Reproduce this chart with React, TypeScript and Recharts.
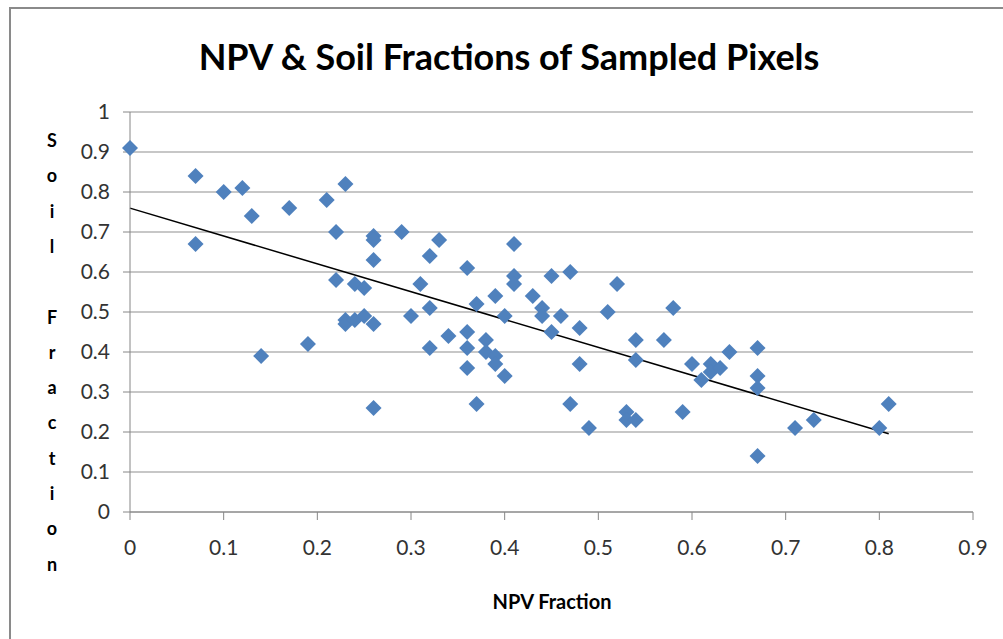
import { ScatterChart, Scatter, XAxis, YAxis, CartesianGrid, ReferenceLine } from "recharts";

const npvFraction = [
  0, 0.07, 0.07, 0.1, 0.12, 0.13, 0.14, 0.17, 0.19, 0.21, 0.22, 0.22, 0.23, 0.23, 0.23,
  0.24, 0.24, 0.25, 0.25, 0.26, 0.26, 0.26, 0.26, 0.26, 0.29, 0.3, 0.31, 0.32, 0.32, 0.32,
  0.33, 0.34, 0.36, 0.36, 0.36, 0.36, 0.37, 0.37, 0.38, 0.38, 0.39, 0.39, 0.39, 0.4, 0.4,
  0.41, 0.41, 0.41, 0.43, 0.44, 0.44, 0.45, 0.45, 0.46, 0.47, 0.47, 0.48, 0.48, 0.49, 0.51,
  0.52, 0.53, 0.53, 0.54, 0.54, 0.54, 0.57, 0.58, 0.59, 0.6, 0.61, 0.62, 0.62, 0.63, 0.64,
  0.67, 0.67, 0.67, 0.67, 0.71, 0.73, 0.8, 0.81,
];
const soilFraction = [
  0.91, 0.84, 0.67, 0.8, 0.81, 0.74, 0.39, 0.76, 0.42, 0.78, 0.7, 0.58, 0.82, 0.48, 0.47,
  0.57, 0.48, 0.56, 0.49, 0.69, 0.68, 0.63, 0.47, 0.26, 0.7, 0.49, 0.57, 0.64, 0.51, 0.41,
  0.68, 0.44, 0.61, 0.45, 0.41, 0.36, 0.52, 0.27, 0.43, 0.4, 0.54, 0.39, 0.37, 0.49, 0.34,
  0.67, 0.59, 0.57, 0.54, 0.51, 0.49, 0.59, 0.45, 0.49, 0.6, 0.27, 0.46, 0.37, 0.21, 0.5,
  0.57, 0.25, 0.23, 0.43, 0.38, 0.23, 0.43, 0.51, 0.25, 0.37, 0.33, 0.37, 0.35, 0.36, 0.4,
  0.41, 0.34, 0.31, 0.14, 0.21, 0.23, 0.21, 0.27,
];
const xTicks = [0, 0.1, 0.2, 0.3, 0.4, 0.5, 0.6, 0.7, 0.8, 0.9];
const yTicks = [0, 0.1, 0.2, 0.3, 0.4, 0.5, 0.6, 0.7, 0.8, 0.9, 1];
const yTitleLetters = ["S", "o", "i", "l", "", "F", "r", "a", "c", "t", "i", "o", "n"];

const points = npvFraction.map((npv, i) => ({ npv, soil: soilFraction[i] }));

// least squares trendline, like Excel's linear trendline
function linearFit(xs: number[], ys: number[]) {
  const n = xs.length;
  const mx = xs.reduce((a, b) => a + b, 0) / n;
  const my = ys.reduce((a, b) => a + b, 0) / n;
  let sxy = 0;
  let sxx = 0;
  xs.forEach((x, i) => {
    sxy += (x - mx) * (ys[i] - my);
    sxx += (x - mx) * (x - mx);
  });
  const slope = sxy / sxx;
  return { slope, intercept: my - slope * mx };
}

const fit = linearFit(npvFraction, soilFraction);
const xMin = Math.min(...npvFraction);
const xMax = Math.max(...npvFraction);

const FONT = 'Lato, "Open Sans", sans-serif';

const Diamond = (props: any) => {
  const { cx, cy } = props;
  const r = 8;
  return (
    <polygon
      points={`${cx},${cy - r} ${cx + r},${cy} ${cx},${cy + r} ${cx - r},${cy}`}
      fill="#4F81BD"
    />
  );
};

export default function App() {
  return (
    <div
      style={{
        position: "fixed",
        left: 0,
        top: 0,
        width: 1003,
        height: 639,
        overflow: "hidden",
        background: "#fff",
        fontFamily: FONT,
      }}
    >
      <div
        style={{
          position: "absolute",
          left: 9,
          top: 7,
          width: 1100,
          height: 800,
          border: "2px solid #8a8a8a",
        }}
      />
      <div
        style={{
          position: "absolute",
          left: 0,
          width: 1018,
          top: 34,
          textAlign: "center",
          fontSize: 36,
          fontWeight: "bold",
          color: "#000",
        }}
      >
        NPV &amp; Soil Fractions of Sampled Pixels
      </div>
      {yTitleLetters.map((ch, i) => (
        <div
          key={i}
          style={{
            position: "absolute",
            left: 42,
            width: 20,
            top: 129 + i * 35.3,
            textAlign: "center",
            fontSize: 18,
            fontWeight: "bold",
            lineHeight: "22px",
          }}
        >
          {ch}
        </div>
      ))}
      <div
        style={{
          position: "absolute",
          left: 452,
          width: 200,
          top: 589,
          textAlign: "center",
          fontSize: 20,
          fontWeight: "bold",
        }}
      >
        NPV Fraction
      </div>
      <div style={{ position: "absolute", left: 0, top: 0 }}>
        <ScatterChart
          width={1003}
          height={639}
          margin={{ top: 112, right: 30, bottom: 67, left: 70 }}
        >
          <CartesianGrid vertical={false} stroke="#b4b4b4" strokeWidth={1.5} />
          <XAxis
            type="number"
            dataKey="npv"
            domain={[0, 0.9]}
            ticks={xTicks}
            interval={0}
            height={60}
            stroke="#868686"
            tickSize={8}
            tickMargin={20}
            tick={{ fill: "#333", fontSize: 21, fontFamily: FONT }}
          />
          <YAxis
            type="number"
            dataKey="soil"
            domain={[0, 1]}
            ticks={yTicks}
            interval={0}
            width={60}
            stroke="#868686"
            tickSize={7}
            tickMargin={13}
            tick={{ fill: "#333", fontSize: 21, fontFamily: FONT }}
          />
          <Scatter data={points} shape={Diamond} isAnimationActive={false} />
          <ReferenceLine
            segment={[
              { x: xMin, y: fit.intercept + fit.slope * xMin },
              { x: xMax, y: fit.intercept + fit.slope * xMax },
            ]}
            stroke="#000"
            strokeWidth={1.5}
            ifOverflow="visible"
          />
        </ScatterChart>
      </div>
    </div>
  );
}
